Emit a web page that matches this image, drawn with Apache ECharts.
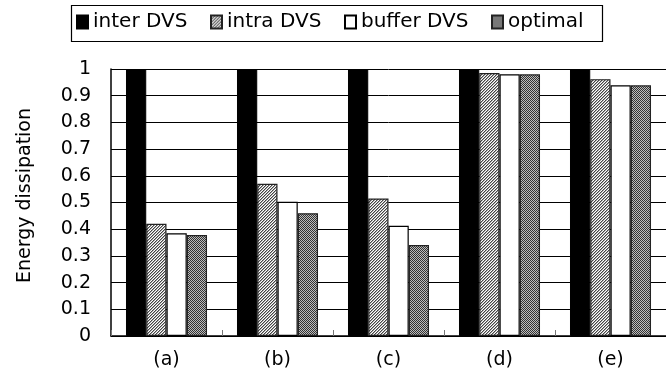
<!DOCTYPE html>
<html><head><meta charset="utf-8">
<script src="https://cdn.jsdelivr.net/npm/echarts@6/dist/echarts.min.js"></script>
<style>html,body{margin:0;padding:0;background:#fff}#c{width:666px;height:383px}</style>
</head><body><div id="c"></div>
<script>
var categories = ['(a)', '(b)', '(c)', '(d)', '(e)'];
var seriesNames = ['inter DVS', 'intra DVS', 'buffer DVS', 'optimal'];
var interDVS = [1, 1, 1, 1, 1];
var intraDVS = [0.42, 0.57, 0.515, 0.985, 0.962];
var bufferDVS = [0.385, 0.503, 0.413, 0.98, 0.939];
var optimal = [0.378, 0.46, 0.341, 0.98, 0.939];
var yTicks = [0, 0.1, 0.2, 0.3, 0.4, 0.5, 0.6, 0.7, 0.8, 0.9, 1];
var legendLefts = [76, 210, 344, 491];

function pattern(fn, n) {
  var cv = document.createElement('canvas');
  cv.width = n; cv.height = n;
  var ctx = cv.getContext('2d');
  for (var x = 0; x < n; x++) for (var y = 0; y < n; y++) {
    ctx.fillStyle = fn(x, y); ctx.fillRect(x, y, 1, 1);
  }
  return { image: cv, repeat: 'repeat' };
}
var hatch = pattern(function (x, y) { var k = (x + y) % 3; return k === 0 ? '#444' : (k === 1 ? '#a8a8a8' : '#ffffff'); }, 6);
var checker = pattern(function (x, y) { return (x + y) % 2 === 0 ? '#333' : '#bdbdbd'; }, 4);

var FONT = 'DejaVu Sans';
var chart = echarts.init(document.getElementById('c'), null, { renderer: 'canvas' });
var base = { type: 'bar', barGap: '0%', barCategoryGap: '27%', animation: false };
chart.setOption({
  animation: false,
  textStyle: { fontFamily: FONT, color: '#000' },
  graphic: [{
    type: 'rect', left: 69, top: 3, silent: true,
    shape: { width: 531, height: 36 },
    style: { fill: 'none', stroke: '#000', lineWidth: 1.2 }
  }],
  legend: seriesNames.map(function (n, i) {
    return {
      left: legendLefts[i], top: 12, padding: 0,
      icon: 'rect', itemWidth: 11, itemHeight: 13,
      textStyle: { fontFamily: FONT, fontSize: 20, color: '#000' },
      data: [n]
    };
  }),
  grid: { left: 111, top: 69, width: 560, height: 267, containLabel: false },
  xAxis: {
    type: 'category', data: categories,
    axisLine: { lineStyle: { color: '#000', width: 1.5 } },
    axisTick: { show: true, inside: true, length: 6, lineStyle: { color: '#777' } },
    axisLabel: { fontFamily: FONT, fontSize: 19, color: '#000', margin: 15 },
    splitLine: { show: false }
  },
  yAxis: {
    type: 'value', min: 0, max: 1, interval: 0.1,
    name: 'Energy dissipation', nameLocation: 'middle', nameGap: 76,
    nameTextStyle: { fontFamily: FONT, fontSize: 19, color: '#000', padding: [0, 0, 0, 14] },
    axisLine: { show: true, lineStyle: { color: '#000', width: 1.5 } },
    axisTick: { show: true, inside: true, length: 6, lineStyle: { color: '#000' } },
    axisLabel: { fontFamily: FONT, fontSize: 19, color: '#000', margin: 20,
      formatter: function (v) { var t = yTicks.filter(function (q) { return Math.abs(q - v) < 1e-9; }); return t.length ? String(t[0]) : ''; } },
    splitLine: { show: true, lineStyle: { color: '#000', width: 1 } }
  },
  series: [
    Object.assign({}, base, { name: seriesNames[0], data: interDVS, itemStyle: { color: '#000', borderColor: '#000', borderWidth: 1 } }),
    Object.assign({}, base, { name: seriesNames[1], data: intraDVS, itemStyle: { color: hatch, borderColor: '#222', borderWidth: 1.2 } }),
    Object.assign({}, base, { name: seriesNames[2], data: bufferDVS, itemStyle: { color: '#fff', borderColor: '#000', borderWidth: 1.2 } }),
    Object.assign({}, base, { name: seriesNames[3], data: optimal, itemStyle: { color: checker, borderColor: '#222', borderWidth: 1.2 } })
  ]
});
</script></body></html>
